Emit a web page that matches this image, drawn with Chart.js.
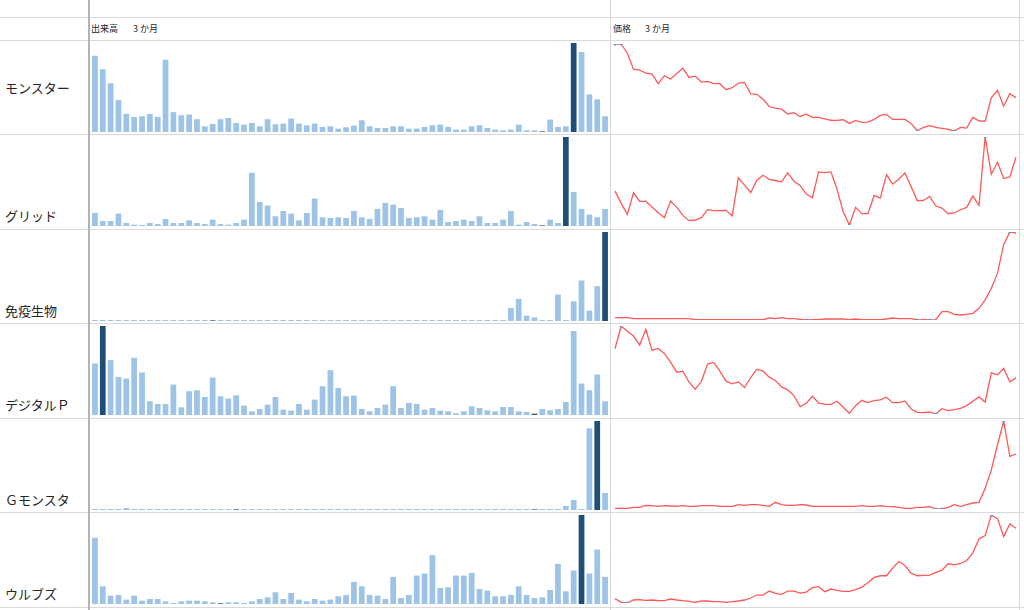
<!DOCTYPE html>
<html lang="ja">
<head>
<meta charset="utf-8">
<title>出来高・価格 3か月</title>
<script src="https://cdn.jsdelivr.net/npm/chart.js@4.4.1/dist/chart.umd.min.js"></script>
<style>
  html, body { margin: 0; padding: 0; background: #ffffff; }
  #sheet {
    position: relative; width: 1024px; height: 610px; overflow: hidden;
    font-family: "Noto Sans CJK JP", "Noto Sans", sans-serif; color: #262626;
  }
  .hl { position: absolute; left: 0; width: 1024px; height: 1px; background: #d9d9d9; }
  .vl { position: absolute; top: 0; height: 610px; width: 1px; background: #d9d9d9; }
  .vl.axis { width: 2px; background: #b3b3b3; }
  .name { position: absolute; left: 5px; font-size: 13px; line-height: 16px; white-space: nowrap; }
  .head { position: absolute; top: 23px; font-size: 9px; line-height: 12px; white-space: nowrap; }
  .head .sub { position: absolute; top: 0; }
  canvas { position: absolute; }
</style>
</head>
<body>
<div id="sheet"></div>
<script>
// ---- 銘柄名 ----
const names = ["モンスター", "グリッド", "免疫生物", "デジタルＰ", "Ｇモンスタ", "ウルブズ"];

// ---- 見出し ----
const volumeTitle = "出来高";
const priceTitle = "価格";
const periodTitle = "3 か月";

// ---- 出来高（3か月・66営業日） ----
const volMonster = [227,187,145,95,54,45,47,54,45,215, 59,50,52,38,17,24,38,42,27,22,
  27,17,38,23,25,40,25,20,25,15, 17,10,14,19,35,17,12,12,17,17,
  10,10,15,20,22,15,7,7,17,20, 12,7,5,7,22,5,5,2,37,15, 17,265,238,112,97,47];
const volGrid = [39,15,15,37,9,4,3,9,6,21, 9,9,17,9,6,19,6,4,9,19,
  159,72,61,29,45,37,17,39,82,26, 24,26,24,45,26,21,51,69,64,54,
  24,26,29,19,48,12,15,19,15,29, 9,9,19,45,4,12,6,2,19,9, 266,102,51,34,26,51];
const volImmuno = [3,3,3,3,3,3,3,3,3,3, 3,3,3,3,3,2,3,3,3,3,
  3,3,3,3,3,3,3,3,3,3, 3,3,3,3,3,3,3,3,3,3,
  3,3,3,3,3,3,3,3,3,3, 3,3,3,39,66,16,11,3,3,79, 3,59,121,31,104,266];
const volDigital = [154,266,164,114,109,171,127,41,33,33, 91,23,71,74,54,112,56,49,59,28,
  11,18,31,54,16,13,33,16,46,86, 134,81,56,58,18,11,21,31,86,21,
  36,33,16,21,13,11,5,11,26,21, 14,11,24,24,11,9,4,18,14,18, 39,251,94,74,121,41];
const volGMonster = [3,3,3,3,6,3,3,3,3,3, 3,3,3,3,3,3,3,3,2,3,
  3,3,3,3,3,3,3,3,3,3, 3,3,3,3,3,3,3,3,3,3,
  3,3,3,3,3,3,3,3,3,3, 3,3,3,3,3,3,2,3,3,3, 12,30,3,244,266,51];
const volWolves = [198,53,25,27,13,25,10,15,15,8, 3,8,10,10,8,5,2,5,5,3,
  8,15,20,35,15,33,13,8,15,10, 13,23,27,66,53,27,25,15,81,18,
  27,85,91,146,48,50,85,85,93,45, 40,23,23,27,53,27,18,20,42,120, 38,100,266,91,163,81];

// ---- 価格（3か月・66営業日） ----
const priceMonster = [270,270,242,194,191,182,179,150,174,164, 181,197,169,173,155,157,150,150,132,138,
  152,154,119,118,103,81,76,73,58,62, 51,58,48,48,44,39,39,41,30,39,
  33,34,42,54,57,42,42,42,30,7, 18,23,18,15,12,7,18,16,48,38, 36,107,130,82,120,108];
const priceGrid = [115,78,45,110,84,84,67,50,35,85, 67,42,26,28,35,59,56,56,57,40,
  155,133,111,148,163,150,147,143,170,145, 132,106,95,173,171,173,120,52,13,66,
  47,47,102,94,165,136,151,170,128,86, 87,99,70,64,47,50,59,66,100,72, 278,166,202,153,158,218];
const priceImmuno = [22,22,22,19,19,19,19,19,19,19, 19,19,19,16,16,16,16,16,16,16,
  16,16,16,16,16,21,19,22,19,19, 17,15,16,16,18,18,18,18,16,18,
  16,16,16,16,18,21,19,19,19,15, 16,15,16,40,40,32,30,32,35,50, 75,110,155,240,278,275];
const priceDigital = [212,280,264,250,223,270,207,213,198,172, 142,145,112,91,114,166,171,145,115,107,
  113,96,126,151,145,127,117,98,89,72, 39,49,70,50,46,46,55,37,19,42,
  58,51,57,59,67,51,51,56,32,22, 21,23,17,33,27,30,34,42,55,68, 53,140,134,153,113,125];
const priceGMonster = [20,20,20,23,23,29,28,26,28,27, 26,28,26,26,28,28,28,26,26,26,
  31,29,31,31,29,26,38,31,29,29, 31,30,26,26,26,26,26,26,26,26,
  28,26,26,28,26,25,23,20,20,23, 23,25,18,18,23,31,26,31,36,38, 80,135,210,282,176,183];
const priceWolves = [28,17,15,24,25,23,24,22,22,27, 24,22,20,17,21,21,19,19,17,19,
  21,24,30,39,39,51,44,41,51,51, 45,48,61,64,49,57,53,50,50,55,
  63,76,92,97,97,120,140,128,105,97, 98,99,107,114,133,130,134,143,166,208, 218,280,269,215,253,240];

const volumes = [volMonster, volGrid, volImmuno, volDigital, volGMonster, volWolves];
const prices = [priceMonster, priceGrid, priceImmuno, priceDigital, priceGMonster, priceWolves];

// ---- 色 ----
const barColor = "#9dc3e6";
const barHighColor = "#1f4e79";
const barLowColor = "#44546a";
const lineColor = "rgba(255, 70, 70, 0.9)";
const markerColor = "#5b9bd5";

// ---- レイアウト（シート上の位置） ----
const rowTops = [40, 134, 229, 323, 418, 512];
const rowHeight = 95;
const volLeft = 89, volWidth = 521;
const priceLeft = 611, priceWidth = 409;

const sheet = document.getElementById("sheet");

function addDiv(cls, style, text) {
  const d = document.createElement("div");
  d.className = cls;
  Object.assign(d.style, style);
  if (text !== undefined) d.textContent = text;
  sheet.appendChild(d);
  return d;
}

// 罫線
[17, 40, 134, 229, 323, 418, 512, 607].forEach(y => addDiv("hl", { top: y + "px" }));
addDiv("vl axis", { left: "88px" });
addDiv("vl", { left: "610px" });
addDiv("vl", { left: "1019px" });

// 見出し
function addHead(left, title, subLeft) {
  const h = addDiv("head", { left: left + "px" }, title);
  const s = document.createElement("span");
  s.className = "sub";
  s.style.left = subLeft + "px";
  s.textContent = periodTitle;
  h.appendChild(s);
}
addHead(91, volumeTitle, 42);
addHead(613, priceTitle, 32);

// 銘柄名（1行目は中央、以降は下寄せ）
names.forEach((n, i) => {
  const top = i === 0 ? rowTops[i] + rowHeight / 2 - 8 : rowTops[i] + rowHeight - 21;
  addDiv("name", { top: top + "px" }, n);
});

Chart.defaults.font.family = '"Noto Sans CJK JP", sans-serif';

function makeCanvas(left, top, w, h) {
  const c = document.createElement("canvas");
  c.width = w; c.height = h;
  c.style.left = left + "px"; c.style.top = top + "px";
  c.style.width = w + "px"; c.style.height = h + "px";
  sheet.appendChild(c);
  return c;
}

const commonOpts = {
  responsive: false,
  maintainAspectRatio: false,
  animation: false,
  devicePixelRatio: 1,
  events: [],
  plugins: { legend: { display: false }, tooltip: { enabled: false } }
};

volumes.forEach((vals, i) => {
  const hi = Math.max(...vals), lo = Math.min(...vals);
  const labels = vals.map((_, k) => k + 1);
  new Chart(makeCanvas(volLeft, rowTops[i], volWidth, rowHeight), {
    type: "bar",
    data: {
      labels,
      datasets: [{
        data: vals,
        backgroundColor: ctx => {
          const v = ctx.raw;
          return v === hi ? barHighColor : (v === lo ? barLowColor : barColor);
        },
        borderWidth: 0,
        barPercentage: 0.73,
        categoryPercentage: 1.0
      }]
    },
    options: Object.assign({}, commonOpts, {
      layout: { padding: { left: 2, right: 1, top: 3, bottom: 3 } },
      scales: {
        x: { display: false },
        y: { display: false, min: 0, max: hi }
      }
    })
  });
});

prices.forEach((vals, i) => {
  const hi = Math.max(...vals), lo = Math.min(...vals);
  const labels = vals.map((_, k) => k + 1);
  new Chart(makeCanvas(priceLeft, rowTops[i], priceWidth, rowHeight), {
    type: "line",
    data: {
      labels,
      datasets: [{
        data: vals,
        borderColor: lineColor,
        borderWidth: 1.3,
        tension: 0,
        fill: false,
        pointRadius: ctx => (ctx.raw === hi || ctx.raw === lo) ? 1.6 : 0,
        pointBackgroundColor: markerColor,
        pointBorderWidth: 0
      }]
    },
    options: Object.assign({}, commonOpts, {
      layout: { padding: { left: 4, right: 4, top: 3, bottom: 4 } },
      scales: {
        x: { display: false, offset: false },
        y: { display: false, min: lo, max: hi }
      }
    })
  });
});
</script>
</body>
</html>
